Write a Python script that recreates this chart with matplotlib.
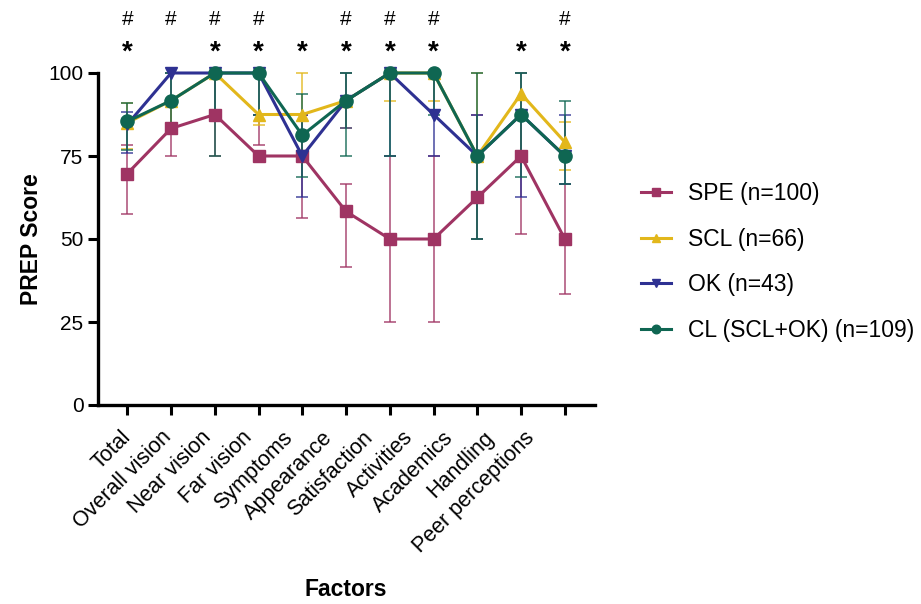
import matplotlib.pyplot as plt
import matplotlib.transforms as mtransforms
import numpy as np

plt.rcParams['font.family'] = ['Liberation Sans', 'DejaVu Sans']

factors = ['Total', 'Overall vision', 'Near vision', 'Far vision', 'Symptoms', 'Appearance',
           'Satisfaction', 'Activities', 'Academics', 'Handling', 'Peer perceptions']

spe = [69.7, 83.3, 87.5, 75, 75, 58.3, 50, 50, 62.5, 75, 50]
spe_lo = [57.6, 75, 75, 78.3, 56.25, 41.7, 25, 25, 50, 51.6, 33.3]
spe_hi = [78.3, 91.7, 100, 87.5, 87.5, 66.7, 75, 75, 87.5, 87.5, 66.7]

scl = [85.0, 91.7, 100, 87.5, 87.5, 91.7, 100, 100, 75, 93.75, 79.2]
scl_lo = [77, 83.3, 87.5, 84.3, 75, 83.3, 91.7, 91.7, 50, 75, 70.8]
scl_hi = [90.9, 100, 100, 100, 100, 100, 100, 100, 100, 100, 85.2]

ok = [84.5, 100, 100, 100, 75, 91.7, 100, 87.5, 75, 87.5, 75]
ok_lo = [75.8, 91.7, 87.5, 87.5, 62.5, 83.3, 75, 75, 50, 62.5, 66.7]
ok_hi = [88.2, 100, 100, 100, 87.5, 100, 100, 100, 87.5, 100, 87.5]

cl = [85.4, 91.7, 100, 100, 81.25, 91.7, 100, 100, 75, 87.5, 75]
cl_lo = [76.8, 83.3, 75, 87.5, 68.75, 75, 75, 87.5, 50, 68.75, 66.7]
cl_hi = [90.9, 100, 100, 100, 93.75, 100, 100, 100, 100, 100, 91.7]

hash_marks = ['#', '#', '#', '#', '', '#', '#', '#', '', '', '#']
star_marks = ['*', '', '*', '*', '*', '*', '*', '*', '', '*', '*']

series = [
    ('SPE (n=100)', spe, spe_lo, spe_hi, '#9F3463', 's', 9),
    ('SCL (n=66)', scl, scl_lo, scl_hi, '#E2B71B', '^', 9),
    ('OK (n=43)', ok, ok_lo, ok_hi, '#2E3192', 'v', 9),
    ('CL (SCL+OK) (n=109)', cl, cl_lo, cl_hi, '#0F6652', 'o', 9.5),
]

fig = plt.figure(figsize=(9.21, 6.04), dpi=100)
ax = fig.add_axes([98 / 921, 1 - 405 / 604, (595 - 98) / 921, (405 - 73) / 604])

x = np.arange(len(factors))
for label, vals, lo, hi, color, marker, ms in series:
    lo = np.array(lo)
    hi = np.array(hi)
    ax.errorbar(x, (lo + hi) / 2, yerr=(hi - lo) / 2, fmt='none', ecolor=color, alpha=0.75,
                elinewidth=1.3, capsize=4, capthick=1.3, clip_on=False, zorder=2)

for label, vals, lo, hi, color, marker, ms in series:
    ax.plot(x, vals, color=color, marker=marker, markersize=ms, linewidth=2.2, label=label,
            clip_on=False, zorder=3)

for i in range(len(factors)):
    ax.text(x[i], 116, hash_marks[i], ha='center', va='center', fontsize=15, clip_on=False)
    ax.text(x[i], 106, star_marks[i], ha='center', va='center', fontsize=20, fontweight='bold',
            clip_on=False)

ax.set_xlim(-0.67, 10.69)
ax.set_ylim(0, 100)
ax.set_yticks([0, 25, 50, 75, 100])
ax.set_xticks(x)
ax.set_xticklabels(factors, rotation=45, ha='right', rotation_mode='anchor')
ax.tick_params(axis='both', labelsize=15, width=2.2, length=7)
ax.tick_params(axis='x', pad=6, labelsize=15.5)

# labels in the reference drift left a little as they go right
for i, lbl in enumerate(ax.get_xticklabels()):
    shift = mtransforms.ScaledTranslation((-7 - 3.4 * i) / 100, -4 / 100, fig.dpi_scale_trans)
    lbl.set_transform(lbl.get_transform() + shift)

for side in ['top', 'right']:
    ax.spines[side].set_visible(False)
for side in ['left', 'bottom']:
    ax.spines[side].set_linewidth(2.4)

ax.set_ylabel('PREP Score', fontsize=16.5, fontweight='bold', labelpad=4)
fig.text(346 / 921, 1 - 590 / 604, 'Factors', fontsize=16.5, fontweight='bold', ha='center', va='center')

fig.legend(loc='center left', bbox_to_anchor=(630 / 921, 1 - 262 / 604), frameon=False,
           fontsize=16.5, handlelength=1.3, handletextpad=0.75, labelspacing=1.0,
           borderpad=0, markerscale=0.65)

fig.savefig('out.png', dpi=100)
